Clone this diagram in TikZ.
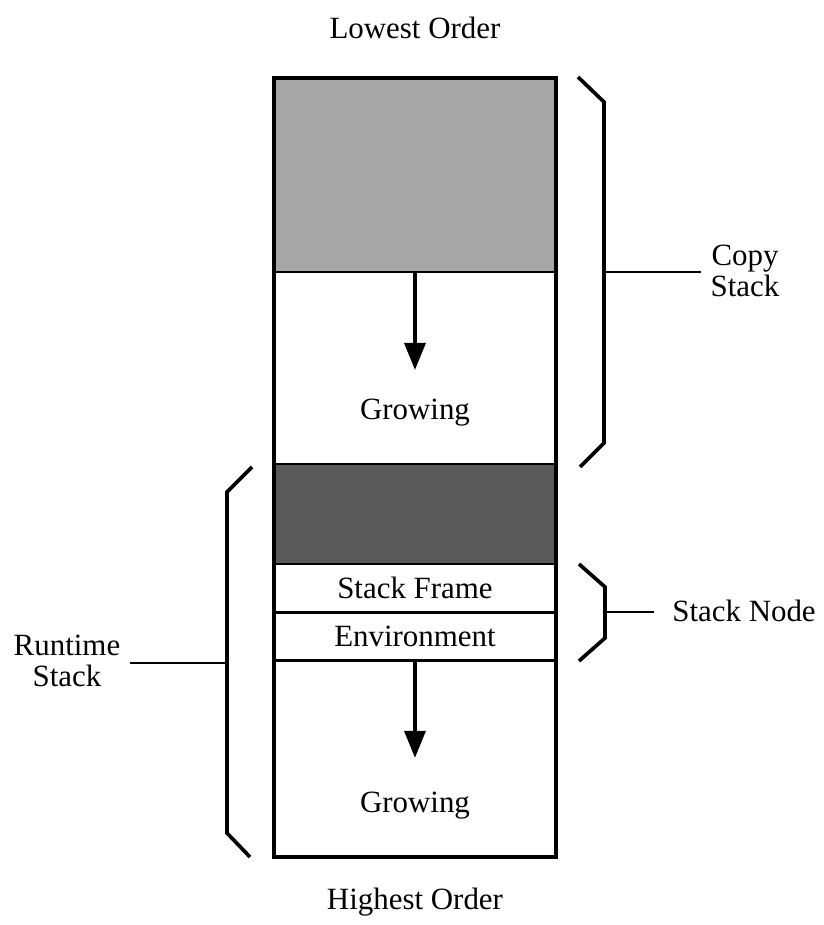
\documentclass[tikz,border=0pt]{standalone}
\usepackage{fontspec}
\setmainfont{Liberation Serif}
\usetikzlibrary{arrows.meta,positioning}
\newcommand{\lblfont}{\fontsize{17.6}{17.8}\selectfont}
\tikzset{
  >={Triangle[width=4.2mm,length=5.4mm]},
  cell/.style={rectangle,draw,line width=1.6pt,minimum width=5.64cm,inner sep=0pt,outer sep=0pt},
  outline/.style={draw,line width=2.2pt},
  growarrow/.style={->,line width=2pt},
  brace/.style={draw,line width=2.1pt,line join=miter},
  stem/.style={draw,line width=1.6pt},
  sidelabel/.style={align=center,font=\lblfont}
}

\begin{document}
\begin{tikzpicture}[x=0.02cm,y=-0.02cm,font=\lblfont]
  \useasboundingbox (0,0) rectangle (823,925);

  % Stack column
  \node[cell,fill=black!35,minimum height=3.88cm,anchor=north west] (copied) at (274,78) {};
  \node[cell,minimum height=3.84cm,below=0pt of copied] (copygrow) {};
  \node[cell,fill=black!65,minimum height=2.0cm,below=0pt of copygrow] (frames) {};
  \node[cell,minimum height=0.98cm,below=0pt of frames] (sframe) {Stack Frame};
  \node[cell,minimum height=0.96cm,below=0pt of sframe] (env) {Environment};
  \node[cell,minimum height=3.92cm,below=0pt of env] (rungrow) {};
  \draw[outline] (copied.north west) rectangle (rungrow.south east);

  % Growing directions
  \node (copygrowlbl) at ([yshift=1.03cm]copygrow.south) {Growing};
  \node (rungrowlbl) at ([yshift=1.03cm]rungrow.south) {Growing};
  \coordinate (copytip) at ([yshift=-1.96cm]copygrow.north);
  \coordinate (runtip) at ([yshift=-1.94cm]rungrow.north);
  \draw[growarrow] (copygrow.north) -- (copytip);
  \draw[growarrow] (rungrow.north) -- (runtip);

  % Order labels
  \node (lowest) at ([yshift=1.0cm]copied.north) {Lowest Order};
  \node (highest) at ([yshift=-0.9cm]rungrow.south) {Highest Order};

  % Copy stack brace
  \draw[brace] (578,77) -- (604,102) -- (604,443) -- (580,467);
  \coordinate (copymid) at (604,272);
  \node[sidelabel] (copylbl) at (745,271) {Copy\\Stack};
  \draw[stem] (copymid) -- ([xshift=-2pt]copymid -| copylbl.west);

  % Stack node brace
  \draw[brace] (579,564) -- (605,587) -- (605,638) -- (579,661);
  \coordinate (nodemid) at (605,612);
  \node[sidelabel] (nodelbl) at (744,611) {Stack Node};
  \draw[stem] (nodemid) -- ([xshift=-7pt]nodemid -| nodelbl.west);

  % Runtime stack brace
  \draw[brace] (252,467) -- (227,492) -- (227,833) -- (250,857);
  \coordinate (runmid) at (227,663);
  \node[sidelabel] (runlbl) at (67,661) {Runtime\\Stack};
  \draw[stem] (runmid) -- ([xshift=2pt]runmid -| runlbl.east);
\end{tikzpicture}
\end{document}
